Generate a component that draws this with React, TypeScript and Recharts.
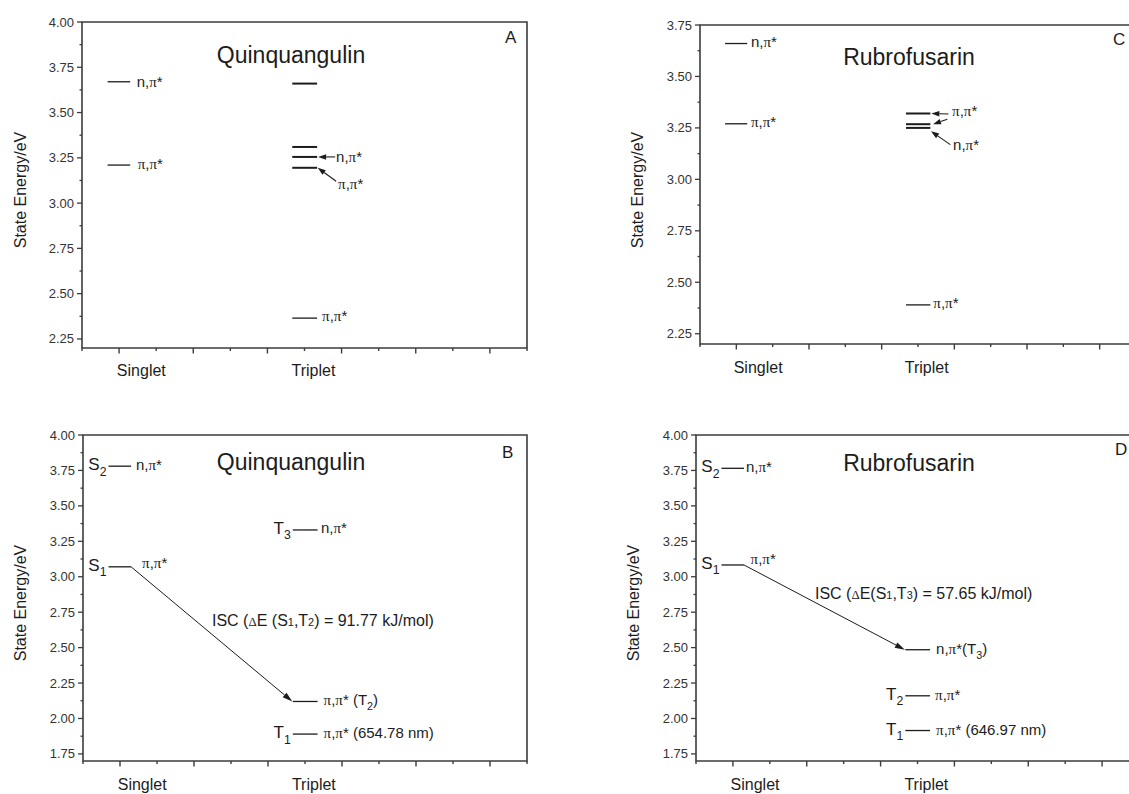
import React from "react";
import { ComposedChart, XAxis, YAxis, Scatter, ReferenceLine, ReferenceArea, ReferenceDot } from "recharts";

const SANS = "'Liberation Sans', Arial, sans-serif";
const SERIF = "'Liberation Serif', 'Times New Roman', serif";
const INK = "#1c1c1c";
const AXIS = "#3c3c3c";

// x frame is Origin-like: 0.5 .. 6.5, columns sit near 1 (singlet) and 3.5 (triplet)
const X_DOMAIN: [number, number] = [0.5, 6.5];
const X_TICKS = [0.5, 1, 1.5, 2, 2.5, 3, 3.5, 4, 4.5, 5, 5.5, 6, 6.5];
const COLUMN_NAMES = ["Singlet", "Triplet"];
const COLUMN_LABEL_AT = [1.3, 3.62];
const SINGLET_SPAN = [0.845, 1.15];
const TRIPLET_SPAN = [3.335, 3.67];

const Y_MAJOR_A = [2.25, 2.5, 2.75, 3.0, 3.25, 3.5, 3.75, 4.0];
const Y_MAJOR_C = [2.25, 2.5, 2.75, 3.0, 3.25, 3.5, 3.75];
const Y_MAJOR_BD = [1.75, 2.0, 2.25, 2.5, 2.75, 3.0, 3.25, 3.5, 3.75, 4.0];

// panel A – Quinquangulin, all states
const A_SINGLET = [3.67, 3.21];
const A_SINGLET_STATES = ["n,π*", "π,π*"];
const A_TRIPLET = [3.66, 3.31, 3.255, 3.195, 2.365];
const A_TRIPLET_STATES = ["", "", "n,π*", "π,π*", "π,π*"];

// panel B – Quinquangulin, ISC scheme
const B_SINGLET = [3.78, 3.07];
const B_SINGLET_STATES = ["n,π*", "π,π*"];
const B_SINGLET_TAGS = ["S_2", "S_1"];
const B_TRIPLET = [3.33, 2.12, 1.89];
const B_TRIPLET_STATES = ["n,π*", "π,π* (T_2)", "π,π* (654.78 nm)"];
const B_TRIPLET_TAGS = ["T_3", "", "T_1"];
const B_ISC = "ISC (ΔE (S~1,T~2) = 91.77 kJ/mol)";

// panel C – Rubrofusarin, all states
const C_SINGLET = [3.66, 3.27];
const C_SINGLET_STATES = ["n,π*", "π,π*"];
const C_TRIPLET = [3.32, 3.268, 3.25, 2.39];
const C_TRIPLET_STATES = ["π,π*", "", "n,π*", "π,π*"];

// panel D – Rubrofusarin, ISC scheme
const D_SINGLET = [3.765, 3.083];
const D_SINGLET_STATES = ["n,π*", "π,π*"];
const D_SINGLET_TAGS = ["S_2", "S_1"];
const D_TRIPLET = [2.485, 2.16, 1.915];
const D_TRIPLET_STATES = ["n,π*(T_3)", "π,π*", "π,π* (646.97 nm)"];
const D_TRIPLET_TAGS = ["", "T_2", "T_1"];
const D_ISC = "ISC (ΔE(S~1,T~3) = 57.65 kJ/mol)";

type Place = {
  dx: number;
  dy: number;
  bold?: boolean;
  noText?: boolean;
  arrow?: [number, number, number, number];
};

function withMinors(majors: number[]) {
  const out: number[] = [];
  majors.forEach((m, i) => {
    out.push(m);
    if (i < majors.length - 1) out.push((m + majors[i + 1]) / 2);
  });
  return out;
}

// "_x" -> subscript, "~x" -> small digit on the baseline, π / Δ in serif
function rich(str: string, size: number) {
  const out: React.ReactNode[] = [];
  let i = 0;
  let shift = 0;
  while (i < str.length) {
    const c = str[i];
    if (c === "_") {
      out.push(
        <tspan key={i} fontSize={size * 0.72} dy={size * 0.32 - shift}>
          {str[i + 1]}
        </tspan>
      );
      shift = size * 0.32;
      i += 2;
      continue;
    }
    if (c === "~") {
      out.push(
        <tspan key={i} fontSize={size * 0.68} dy={-shift}>
          {str[i + 1]}
        </tspan>
      );
      shift = 0;
      i += 2;
      continue;
    }
    if (c === "π" || c === "Δ") {
      out.push(
        <tspan key={i} fontFamily={SERIF} fontSize={c === "Δ" ? size * 0.8 : size} dy={-shift}>
          {c}
        </tspan>
      );
      shift = 0;
      i += 1;
      continue;
    }
    let j = i;
    while (j < str.length && !"_~πΔ".includes(str[j])) j++;
    out.push(
      <tspan key={i} dy={-shift}>
        {str.slice(i, j)}
      </tspan>
    );
    shift = 0;
    i = j;
  }
  return out;
}

function arrow(ax: number, ay: number, bx: number, by: number, len = 8, half = 2.8, w = 1.1) {
  const dx = bx - ax;
  const dy = by - ay;
  const d = Math.hypot(dx, dy) || 1;
  const ux = dx / d;
  const uy = dy / d;
  const baseX = bx - ux * len;
  const baseY = by - uy * len;
  const px = -uy;
  const py = ux;
  return (
    <g>
      <line x1={ax} y1={ay} x2={baseX} y2={baseY} stroke={INK} strokeWidth={w} />
      <polygon
        points={`${bx},${by} ${baseX + px * half},${baseY + py * half} ${baseX - px * half},${baseY - py * half}`}
        fill={INK}
      />
    </g>
  );
}

function levelShape(state: string, place: Place) {
  return (p: any) => {
    const x1 = Math.min(p.x1, p.x2);
    const x2 = Math.max(p.x1, p.x2);
    const y = p.y1;
    return (
      <g>
        <line x1={x1} x2={x2} y1={y} y2={y} stroke={INK} strokeWidth={place.bold ? 2 : 1.3} />
        {state && !place.noText && (
          <text x={x2 + place.dx} y={y + place.dy} fontSize={15} fontFamily={SANS} fill={INK}>
            {rich(state, 15)}
          </text>
        )}
        {place.arrow &&
          arrow(x2 + place.arrow[0], y + place.arrow[1], x2 + place.arrow[2], y + place.arrow[3], 8, 2.8, 1.1)}
      </g>
    );
  };
}

// state name (S1, T2 ...) written just left of a level
function tagShape(tag: string) {
  return (p: any) => (
    <text x={p.cx - 2} y={p.cy + 4} textAnchor="end" fontSize={17} fontFamily={SANS} fill={INK}>
      {rich(tag, 17)}
    </text>
  );
}

const xTick = (p: any) => {
  const v = p.payload.value;
  const major = Number.isInteger(v);
  return (
    <line x1={p.x} x2={p.x} y1={p.y} y2={p.y + (major ? 5.5 : 3)} stroke={AXIS} strokeWidth={1.4} />
  );
};

const yTick = (p: any) => {
  const v = p.payload.value;
  const major = Math.abs(v * 4 - Math.round(v * 4)) < 1e-6;
  return (
    <g>
      <line x1={p.x} x2={p.x - (major ? 5 : 2.5)} y1={p.y} y2={p.y} stroke={AXIS} strokeWidth={1.3} />
      {major && (
        <text x={p.x - 8} y={p.y} dy="0.35em" textAnchor="end" fontSize={13} fontFamily={SANS} fill="#333">
          {v.toFixed(2)}
        </text>
      )}
    </g>
  );
};

type PanelProps = {
  left: number;
  top: number;
  width: number;
  height: number;
  marginTop: number;
  marginLeft: number;
  marginRight: number;
  catHeight: number;
  catGap: number;
  yDomain: [number, number];
  yMajor: number[];
  singlet: number[];
  singletStates: string[];
  singletTags?: string[];
  singletPlace: Place[];
  triplet: number[];
  tripletStates: string[];
  tripletTags?: string[];
  tripletPlace: Place[];
  isc?: { text: string; from: number; to: number; x: number; y: number };
  title: string;
  titleX: number;
  titleY: number;
  letter: string;
  letterX: number;
  letterY: number;
  yLabelX: number;
  yLabelY: number;
};

function Panel(pp: PanelProps) {
  const yTicks = withMinors(pp.yMajor);
  // one point per state, at the column centre, so the axes have data to work from
  const points = [
    ...pp.singlet.map((e) => ({ x: (SINGLET_SPAN[0] + SINGLET_SPAN[1]) / 2, e })),
    ...pp.triplet.map((e) => ({ x: (TRIPLET_SPAN[0] + TRIPLET_SPAN[1]) / 2, e })),
  ];
  const sTags = pp.singletTags || [];
  const tTags = pp.tripletTags || [];
  return (
    <div style={{ position: "absolute", left: pp.left, top: pp.top, width: pp.width, height: pp.height }}>
      <ComposedChart
        width={pp.width}
        height={pp.height}
        data={points}
        margin={{ top: pp.marginTop, right: pp.marginRight, bottom: 0, left: pp.marginLeft }}
      >
        <XAxis
          dataKey="x"
          type="number"
          domain={X_DOMAIN}
          ticks={X_TICKS}
          interval={0}
          allowDataOverflow
          axisLine={false}
          tickLine={false}
          tickSize={0}
          tickMargin={0}
          height={8}
          tick={xTick}
        />
        <XAxis
          xAxisId="cat"
          dataKey="x"
          type="number"
          domain={X_DOMAIN}
          ticks={COLUMN_LABEL_AT}
          interval={0}
          allowDataOverflow
          axisLine={false}
          tickLine={false}
          tickSize={0}
          tickMargin={pp.catGap}
          height={pp.catHeight}
          tickFormatter={(v: number) => COLUMN_NAMES[COLUMN_LABEL_AT.indexOf(v)]}
          tick={{ fontSize: 16, fill: INK, fontFamily: SANS }}
        />
        <YAxis
          type="number"
          domain={pp.yDomain}
          ticks={yTicks}
          interval={0}
          allowDataOverflow
          axisLine={false}
          tickLine={false}
          tickSize={0}
          tickMargin={0}
          width={82}
          tick={yTick}
        />
        <Scatter dataKey="e" isAnimationActive={false} shape={() => <g />} legendType="none" />
        <ReferenceArea
          x1={X_DOMAIN[0]}
          x2={X_DOMAIN[1]}
          y1={pp.yDomain[0]}
          y2={pp.yDomain[1]}
          fill="none"
          stroke={AXIS}
          strokeWidth={1.6}
        />
        {pp.singlet.map((e, i) => (
          <ReferenceLine
            key={"s" + i}
            segment={[
              { x: SINGLET_SPAN[0], y: e },
              { x: SINGLET_SPAN[1], y: e },
            ]}
            ifOverflow="visible"
            shape={levelShape(pp.singletStates[i], pp.singletPlace[i])}
          />
        ))}
        {pp.triplet.map((e, i) => (
          <ReferenceLine
            key={"t" + i}
            segment={[
              { x: TRIPLET_SPAN[0], y: e },
              { x: TRIPLET_SPAN[1], y: e },
            ]}
            ifOverflow="visible"
            shape={levelShape(pp.tripletStates[i], pp.tripletPlace[i])}
          />
        ))}
        {pp.singlet.map((e, i) =>
          sTags[i] ? (
            <ReferenceDot
              key={"sd" + i}
              x={SINGLET_SPAN[0]}
              y={e}
              r={1}
              ifOverflow="visible"
              shape={tagShape(sTags[i])}
            />
          ) : null
        )}
        {pp.triplet.map((e, i) =>
          tTags[i] ? (
            <ReferenceDot
              key={"td" + i}
              x={TRIPLET_SPAN[0]}
              y={e}
              r={1}
              ifOverflow="visible"
              shape={tagShape(tTags[i])}
            />
          ) : null
        )}
        {pp.isc && (
          <ReferenceLine
            segment={[
              { x: SINGLET_SPAN[1], y: pp.singlet[pp.isc.from] },
              { x: TRIPLET_SPAN[0], y: pp.triplet[pp.isc.to] },
            ]}
            ifOverflow="visible"
            shape={(p: any) => arrow(p.x1, p.y1, p.x2 - 0.5, p.y2, 10, 3, 1)}
          />
        )}
        {pp.isc && (
          <text x={pp.isc.x} y={pp.isc.y} fontSize={16} fontFamily={SANS} fill={INK}>
            {rich(pp.isc.text, 16)}
          </text>
        )}
        <text x={pp.titleX} y={pp.titleY} textAnchor="middle" fontSize={23} fontFamily={SANS} fill={INK}>
          {pp.title}
        </text>
        <text x={pp.letterX} y={pp.letterY} fontSize={17} fontFamily={SANS} fill={INK}>
          {pp.letter}
        </text>
        <text
          x={pp.yLabelX}
          y={pp.yLabelY}
          transform={`rotate(-90 ${pp.yLabelX} ${pp.yLabelY})`}
          textAnchor="middle"
          dy="0.35em"
          fontSize={16}
          fontFamily={SANS}
          fill={INK}
        >
          State Energy/eV
        </text>
      </ComposedChart>
    </div>
  );
}

export default function App() {
  return (
    <div
      style={{
        position: "fixed",
        left: 0,
        top: 0,
        width: 1129,
        height: 794,
        overflow: "hidden",
        background: "#fff",
      }}
    >
      <Panel
        left={0}
        top={0}
        width={560}
        height={395}
        marginTop={22}
        marginLeft={0}
        marginRight={33}
        catHeight={39}
        catGap={9}
        yDomain={[2.2, 4.0]}
        yMajor={Y_MAJOR_A}
        singlet={A_SINGLET}
        singletStates={A_SINGLET_STATES}
        singletPlace={[
          { dx: 6.5, dy: 5 },
          { dx: 7.5, dy: 4 },
        ]}
        triplet={A_TRIPLET}
        tripletStates={A_TRIPLET_STATES}
        tripletPlace={[
          { dx: 0, dy: 0, bold: true },
          { dx: 0, dy: 0, bold: true },
          { dx: 19, dy: 5, bold: true, arrow: [18, 0, 1, 0] },
          { dx: 21, dy: 21, bold: true, arrow: [19, 13.4, 0.6, 0] },
          { dx: 5, dy: 3 },
        ]}
        title="Quinquangulin"
        titleX={291}
        titleY={63}
        letter="A"
        letterX={505}
        letterY={43}
        yLabelX={20}
        yLabelY={190}
      />
      <Panel
        left={0}
        top={400}
        width={560}
        height={394}
        marginTop={35}
        marginLeft={1}
        marginRight={33}
        catHeight={25}
        catGap={10}
        yDomain={[1.7, 4.0]}
        yMajor={Y_MAJOR_BD}
        singlet={B_SINGLET}
        singletStates={B_SINGLET_STATES}
        singletTags={B_SINGLET_TAGS}
        singletPlace={[
          { dx: 4.8, dy: 4 },
          { dx: 11, dy: 1.6 },
        ]}
        triplet={B_TRIPLET}
        tripletStates={B_TRIPLET_STATES}
        tripletTags={B_TRIPLET_TAGS}
        tripletPlace={[
          { dx: 3.4, dy: 3.5 },
          { dx: 6, dy: 3.5 },
          { dx: 6, dy: 3.5 },
        ]}
        isc={{ text: B_ISC, from: 1, to: 1, x: 212, y: 226 }}
        title="Quinquangulin"
        titleX={291}
        titleY={70}
        letter="B"
        letterX={502}
        letterY={58}
        yLabelX={20}
        yLabelY={203}
      />
      <Panel
        left={560}
        top={0}
        width={580}
        height={395}
        marginTop={25}
        marginLeft={58}
        marginRight={4}
        catHeight={43}
        catGap={10}
        yDomain={[2.2, 3.75]}
        yMajor={Y_MAJOR_C}
        singlet={C_SINGLET}
        singletStates={C_SINGLET_STATES}
        singletPlace={[
          { dx: 3.7, dy: 3.5 },
          { dx: 3.7, dy: 3.5 },
        ]}
        triplet={C_TRIPLET}
        tripletStates={C_TRIPLET_STATES}
        tripletPlace={[
          { dx: 21.7, dy: 2.7, bold: true, arrow: [18, 0.5, 1, 0] },
          { dx: 0, dy: 0, bold: true, noText: true, arrow: [17, -5, 2.7, 0] },
          { dx: 22.7, dy: 22.4, bold: true, arrow: [20, 16.7, 0.7, 3.4] },
          { dx: 3, dy: 3 },
        ]}
        title="Rubrofusarin"
        titleX={349}
        titleY={65}
        letter="C"
        letterX={553}
        letterY={45}
        yLabelX={77}
        yLabelY={190}
      />
      <Panel
        left={560}
        top={400}
        width={583}
        height={394}
        marginTop={35}
        marginLeft={54}
        marginRight={4}
        catHeight={25}
        catGap={10}
        yDomain={[1.7, 4.0]}
        yMajor={Y_MAJOR_BD}
        singlet={D_SINGLET}
        singletStates={D_SINGLET_STATES}
        singletTags={D_SINGLET_TAGS}
        singletPlace={[
          { dx: 2, dy: 4 },
          { dx: 6.6, dy: -1.4 },
        ]}
        triplet={D_TRIPLET}
        tripletStates={D_TRIPLET_STATES}
        tripletTags={D_TRIPLET_TAGS}
        tripletPlace={[
          { dx: 6, dy: 4 },
          { dx: 5, dy: 4 },
          { dx: 6, dy: 4 },
        ]}
        isc={{ text: D_ISC, from: 1, to: 0, x: 255, y: 199 }}
        title="Rubrofusarin"
        titleX={349}
        titleY={71}
        letter="D"
        letterX={555}
        letterY={55}
        yLabelX={73}
        yLabelY={203}
      />
    </div>
  );
}
